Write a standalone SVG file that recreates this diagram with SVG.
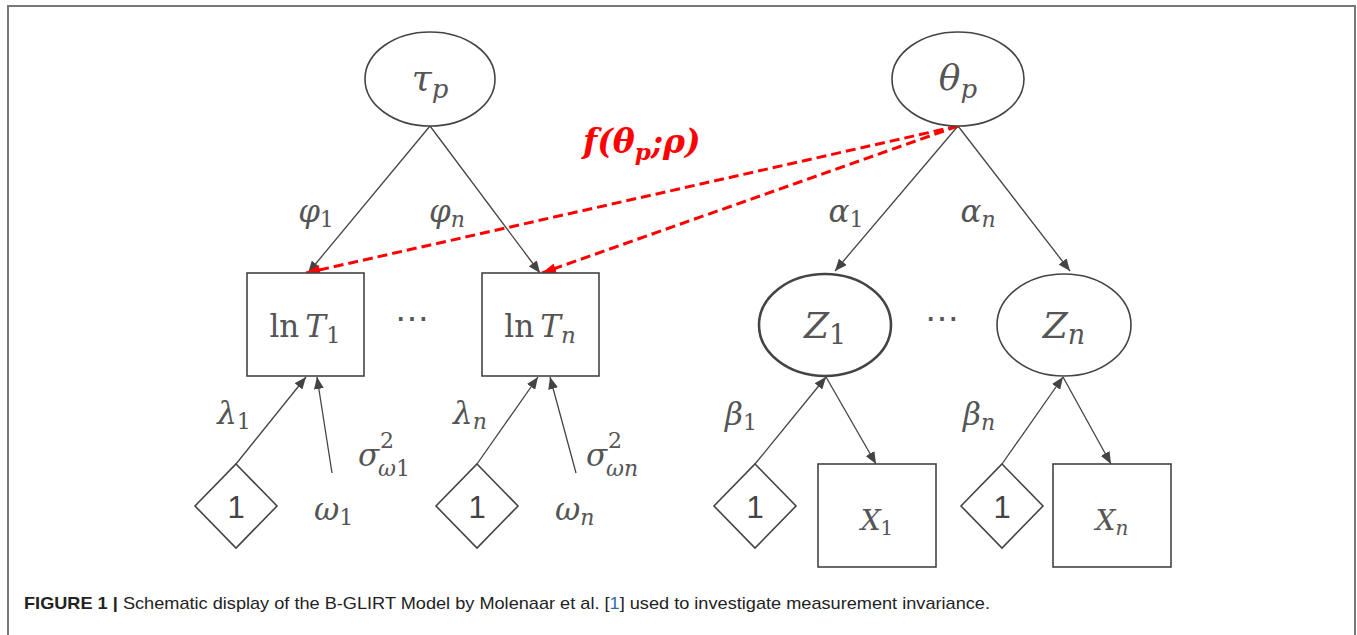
<svg xmlns="http://www.w3.org/2000/svg" width="1357" height="635" viewBox="0 0 1357 635">
<defs>
<marker id="ah" viewBox="0 0 12 10" refX="12" refY="5" markerWidth="12" markerHeight="10" markerUnits="userSpaceOnUse" orient="auto"><path d="M0,0 L12,5 L0,10 z" fill="#444"/></marker>
<marker id="ahr" viewBox="0 0 14 10" refX="14" refY="5" markerWidth="14" markerHeight="10" markerUnits="userSpaceOnUse" orient="auto"><path d="M0,0 L14,5 L0,10 z" fill="#ff0000"/></marker>
</defs>
<style>
.shape{fill:#fff;stroke:#444;stroke-width:1.6}
.thick{stroke-width:2.6}
.edge{stroke:#444;stroke-width:1.3;fill:none;marker-end:url(#ah)}
.red{stroke:#ff0000;stroke-width:3;stroke-dasharray:10 5;fill:none;marker-end:url(#ahr)}
.m{font-family:"DejaVu Serif","Liberation Serif",serif;font-style:italic;fill:#555}
.r{font-family:"DejaVu Serif","Liberation Serif",serif;fill:#555}
.s{font-family:"Liberation Sans",Arial,sans-serif;fill:#222}
.one{font-family:"Liberation Sans",Arial,sans-serif;fill:#444}
</style>
<rect width="1357" height="635" fill="#fff"/>
<path d="M8,640 L8,6 L1355,6 L1355,640" fill="none" stroke="#777" stroke-width="2"/>

<g id="connectors">
<line class="edge" x1="430" y1="126" x2="308" y2="273"/>
<line class="edge" x1="430" y1="126" x2="540" y2="273"/>
<line class="edge" x1="958" y1="126" x2="835" y2="271"/>
<line class="edge" x1="958" y1="126" x2="1070" y2="271"/>
<line class="red" x1="958" y1="126" x2="306" y2="273"/>
<line class="red" x1="958" y1="126" x2="542" y2="273"/>
<line class="edge" x1="236" y1="464" x2="306" y2="377"/>
<line class="edge" x1="332" y1="473" x2="317" y2="377"/>
<line class="edge" x1="477" y1="464" x2="538" y2="377"/>
<line class="edge" x1="576" y1="473" x2="550" y2="377"/>
<line class="edge" x1="755" y1="464" x2="826" y2="377"/>
<line class="edge" x1="826" y1="377" x2="876" y2="464"/>
<line class="edge" x1="1002" y1="464" x2="1063" y2="377"/>
<line class="edge" x1="1063" y1="377" x2="1111" y2="464"/>
</g>

<g id="tau">
<ellipse class="shape" cx="430" cy="79" rx="65" ry="47"/>
<text class="m" x="430" y="90" font-size="36" text-anchor="middle">τ<tspan font-size="26" dy="8">p</tspan></text>
</g>
<g id="theta">
<ellipse class="shape" cx="958" cy="79" rx="66" ry="47"/>
<text class="m" x="958" y="90" font-size="36" text-anchor="middle">θ<tspan font-size="26" dy="8">p</tspan></text>
</g>
<g id="lnT1">
<rect class="shape" x="247" y="273" width="117" height="103"/>
<text x="305" y="337" font-size="31" text-anchor="middle"><tspan class="r">ln</tspan><tspan class="m" dx="6">T</tspan><tspan class="r" font-size="23" dy="6">1</tspan></text>
</g>
<g id="lnTn">
<rect class="shape" x="482" y="273" width="117" height="103"/>
<text x="540" y="337" font-size="31" text-anchor="middle"><tspan class="r">ln</tspan><tspan class="m" dx="6">T</tspan><tspan class="m" font-size="23" dy="6">n</tspan></text>
</g>
<g id="Z1">
<ellipse class="shape thick" cx="825" cy="325" rx="66" ry="51"/>
<text class="m" x="825" y="338" font-size="36" text-anchor="middle">Z<tspan class="r" font-style="normal" font-size="27" dy="6">1</tspan></text>
</g>
<g id="Zn">
<ellipse class="shape" cx="1064" cy="325" rx="67" ry="51"/>
<text class="m" x="1064" y="338" font-size="36" text-anchor="middle">Z<tspan font-size="27" dy="6">n</tspan></text>
</g>
<g id="X1">
<rect class="shape" x="818" y="464" width="118" height="103"/>
<text class="m" x="877" y="530" font-size="28" text-anchor="middle">X<tspan class="r" font-style="normal" font-size="20" dy="5">1</tspan></text>
</g>
<g id="Xn">
<rect class="shape" x="1053" y="464" width="118" height="103"/>
<text class="m" x="1112" y="530" font-size="28" text-anchor="middle">X<tspan font-size="20" dy="5">n</tspan></text>
</g>
<g id="one1">
<path class="shape" d="M236,464 L277,506 L236,548 L195,506 z"/>
<text class="one" x="236" y="518" font-size="31" text-anchor="middle">1</text>
</g>
<g id="one2">
<path class="shape" d="M477,464 L518,506 L477,548 L436,506 z"/>
<text class="one" x="477" y="518" font-size="31" text-anchor="middle">1</text>
</g>
<g id="one3">
<path class="shape" d="M755,464 L796,506 L755,548 L714,506 z"/>
<text class="one" x="755" y="518" font-size="31" text-anchor="middle">1</text>
</g>
<g id="one4">
<path class="shape" d="M1002,464 L1043,506 L1002,548 L961,506 z"/>
<text class="one" x="1002" y="518" font-size="31" text-anchor="middle">1</text>
</g>

<g id="labels">
<text class="m" x="316" y="222" font-size="31" text-anchor="middle">φ<tspan class="r" font-style="normal" font-size="22" dy="5">1</tspan></text>
<text class="m" x="447" y="222" font-size="31" text-anchor="middle">φ<tspan font-size="22" dy="5">n</tspan></text>
<text class="m" x="846" y="222" font-size="31" text-anchor="middle">α<tspan class="r" font-style="normal" font-size="22" dy="5">1</tspan></text>
<text class="m" x="978" y="222" font-size="31" text-anchor="middle">α<tspan font-size="22" dy="5">n</tspan></text>
<text class="m" x="234" y="424" font-size="31" text-anchor="middle">λ<tspan class="r" font-style="normal" font-size="22" dy="5">1</tspan></text>
<text class="m" x="470" y="424" font-size="31" text-anchor="middle">λ<tspan font-size="22" dy="5">n</tspan></text>
<text class="m" x="741" y="425" font-size="31" text-anchor="middle">β<tspan class="r" font-style="normal" font-size="22" dy="5">1</tspan></text>
<text class="m" x="979" y="425" font-size="31" text-anchor="middle">β<tspan font-size="22" dy="5">n</tspan></text>
<text class="m" x="358" y="466" font-size="31">σ</text>
<text class="r" x="380" y="448" font-size="22">2</text>
<text class="m" x="378" y="476" font-size="22">ω<tspan class="r" font-style="normal">1</tspan></text>
<text class="m" x="586" y="466" font-size="31">σ</text>
<text class="r" x="608" y="448" font-size="22">2</text>
<text class="m" x="606" y="476" font-size="22">ωn</text>
<text class="m" x="314" y="520" font-size="31">ω<tspan class="r" font-style="normal" font-size="22" dy="5">1</tspan></text>
<text class="m" x="555" y="520" font-size="31">ω<tspan font-size="22" dy="5">n</tspan></text>
<text class="r" x="412" y="330" font-size="34" text-anchor="middle">⋯</text>
<text class="r" x="942" y="330" font-size="34" text-anchor="middle">⋯</text>
<text x="583" y="153" font-family="DejaVu Serif,Liberation Serif,serif" font-weight="bold" font-style="italic" font-size="33" fill="#ff0000">f(θ<tspan font-size="23" dy="7">p</tspan><tspan dy="-7">;</tspan>ρ)</text>
</g>

<text class="s" x="24" y="609" font-size="17" textLength="966" lengthAdjust="spacingAndGlyphs"><tspan font-weight="bold">FIGURE 1 |</tspan> Schematic display of the B-GLIRT Model by Molenaar et al. [<tspan fill="#2a6fb0">1</tspan>] used to investigate measurement invariance.</text>
</svg>
